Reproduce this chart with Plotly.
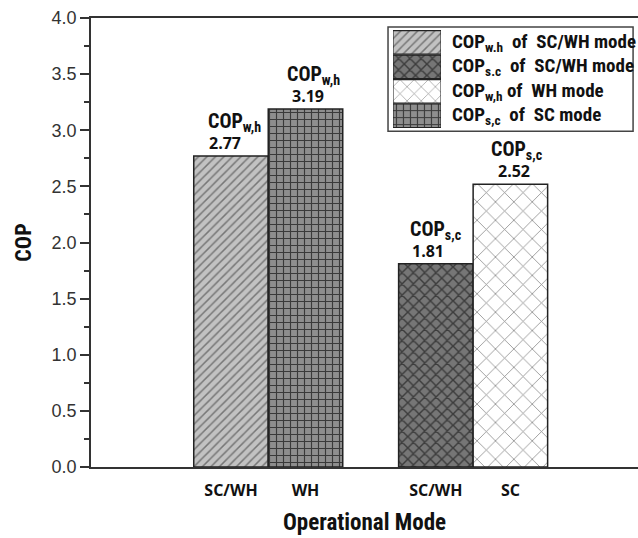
import plotly.graph_objects as go

# ---- data ----
categories = ["SC/WH", "WH", "SC/WH", "SC"]
cop_values = [2.77, 3.19, 1.81, 2.52]
cop_kind = ["COP<sub>w,h</sub>", "COP<sub>w,h</sub>", "COP<sub>s,c</sub>", "COP<sub>s,c</sub>"]
value_text = ["2.77", "3.19", "1.81", "2.52"]
legend_labels = [
    "COP<sub>w.h</sub>&nbsp; of&nbsp; SC/WH mode",
    "COP<sub>s.c</sub>&nbsp; of&nbsp; SC/WH mode",
    "COP<sub>w,h</sub> of&nbsp; WH mode",
    "COP<sub>s,c</sub>&nbsp; of&nbsp; SC mode",
]

# ---- layout / style ----
bar_pos = [1, 2, 3.75, 4.75]
bar_width = 1.0
shapes_p = ["/", "+", "x", "x"]
bg_p = ["#c2c2c2", "#8e8e8e", "#767676", "#ffffff"]
fg_p = ["#777777", "#3a3a3a", "#3c3c3c", "#8a8a8a"]
size_p = [6, 7, 8, 13]
sol_p = [0.25, 0.3, 0.33, 0.12]
# legend swatch order (as in the reference)
leg_order = [0, 2, 3, 1]

cond_font = "Noto Sans ExtraCondensed, Noto Sans Condensed, Roboto Condensed, Roboto, sans-serif"
value_shift = [-6, 3, -8, 4]
kind_shift = [4, 8, 0, 7]

fig = go.Figure()
fig.add_trace(go.Bar(
    x=bar_pos, y=cop_values, width=[bar_width] * 4,
    marker=dict(
        color="#ffffff",
        line=dict(color="#222222", width=1.5),
        pattern=dict(shape=shapes_p, bgcolor=bg_p, fgcolor=fg_p, size=size_p,
                     solidity=sol_p, fillmode="replace"),
    ),
    showlegend=False, hoverinfo="skip",
))

# legend swatches drawn as small bars in an inset axis
fig.add_trace(go.Bar(
    y=list(range(4)), x=[1] * 4, orientation="h", width=[0.96] * 4,
    xaxis="x2", yaxis="y2",
    marker=dict(
        color="#ffffff",
        line=dict(color="#222222", width=1.2),
        pattern=dict(shape=[shapes_p[i] for i in leg_order],
                     bgcolor=[bg_p[i] for i in leg_order],
                     fgcolor=[fg_p[i] for i in leg_order],
                     size=[min(size_p[i], 10) for i in leg_order],
                     solidity=[sol_p[i] for i in leg_order], fillmode="replace"),
    ),
    showlegend=False, hoverinfo="skip",
))

lfont = dict(family=cond_font, size=19, color="#111111", weight="bold")
kfont = dict(family=cond_font, size=20, color="#111111", weight="bold")

annotations = []
for i in range(4):
    annotations.append(dict(
        x=bar_pos[i], y=cop_values[i], xref="x", yref="y", text=value_text[i],
        showarrow=False, yanchor="bottom", yshift=0, xshift=value_shift[i],
        font=dict(family="Open Sans", size=16, color="#111111", weight="bold"),
    ))
    annotations.append(dict(
        x=bar_pos[i], y=cop_values[i], xref="x", yref="y", text=cop_kind[i],
        showarrow=False, yanchor="bottom", yshift=19, xshift=kind_shift[i],
        font=kfont,
    ))
for r in range(4):
    annotations.append(dict(
        x=0.656, y=r, xref="paper", yref="y2", text=legend_labels[r],
        showarrow=False, xanchor="left", yanchor="middle",
        font=lfont,
    ))

fig.update_layout(
    width=638, height=538,
    margin=dict(l=91, r=0, t=18, b=71),
    paper_bgcolor="white", plot_bgcolor="white",
    xaxis=dict(
        range=[-0.879, 6.463], tickvals=bar_pos, ticktext=categories,
        showgrid=False, zeroline=False, ticks="", showline=True, mirror=True,
        linecolor="#333333", linewidth=1.5, ticklabelstandoff=8,
        tickfont=dict(family="Open Sans", size=16, color="#111111", weight="bold"),
        title=dict(text="Operational Mode", standoff=14,
                   font=dict(family=cond_font, size=23, color="#111111", weight="bold")),
    ),
    yaxis=dict(
        range=[0, 4], dtick=0.5, tickformat=".1f", showgrid=False, zeroline=False,
        ticks="outside", ticklen=9, tickwidth=1.5, tickcolor="#333333",
        showline=True, linecolor="#333333", linewidth=1.5,
        minor=dict(ticks="outside", ticklen=5, dtick=0.25, tickwidth=1.5, tickcolor="#333333"),
        tickfont=dict(family="Liberation Sans, Arial", size=18, color="#333333"),
        title=dict(text="COP", standoff=14,
                   font=dict(family=cond_font, size=22, color="#111111", weight="bold")),
    ),
    xaxis2=dict(domain=[0.552, 0.640], range=[0, 1], visible=False, fixedrange=True,
                anchor="y2"),
    yaxis2=dict(domain=[0.755, 0.973], range=[3.5, -0.5], visible=False, fixedrange=True,
                anchor="x2"),
    shapes=[dict(type="rect", xref="paper", yref="paper", x0=0.543, x1=0.991,
                 y0=0.748, y1=0.980, line=dict(color="#444444", width=1.5),
                 fillcolor="rgba(255,255,255,0)", layer="below")],
    annotations=annotations,
)

fig.write_html("out.html")
